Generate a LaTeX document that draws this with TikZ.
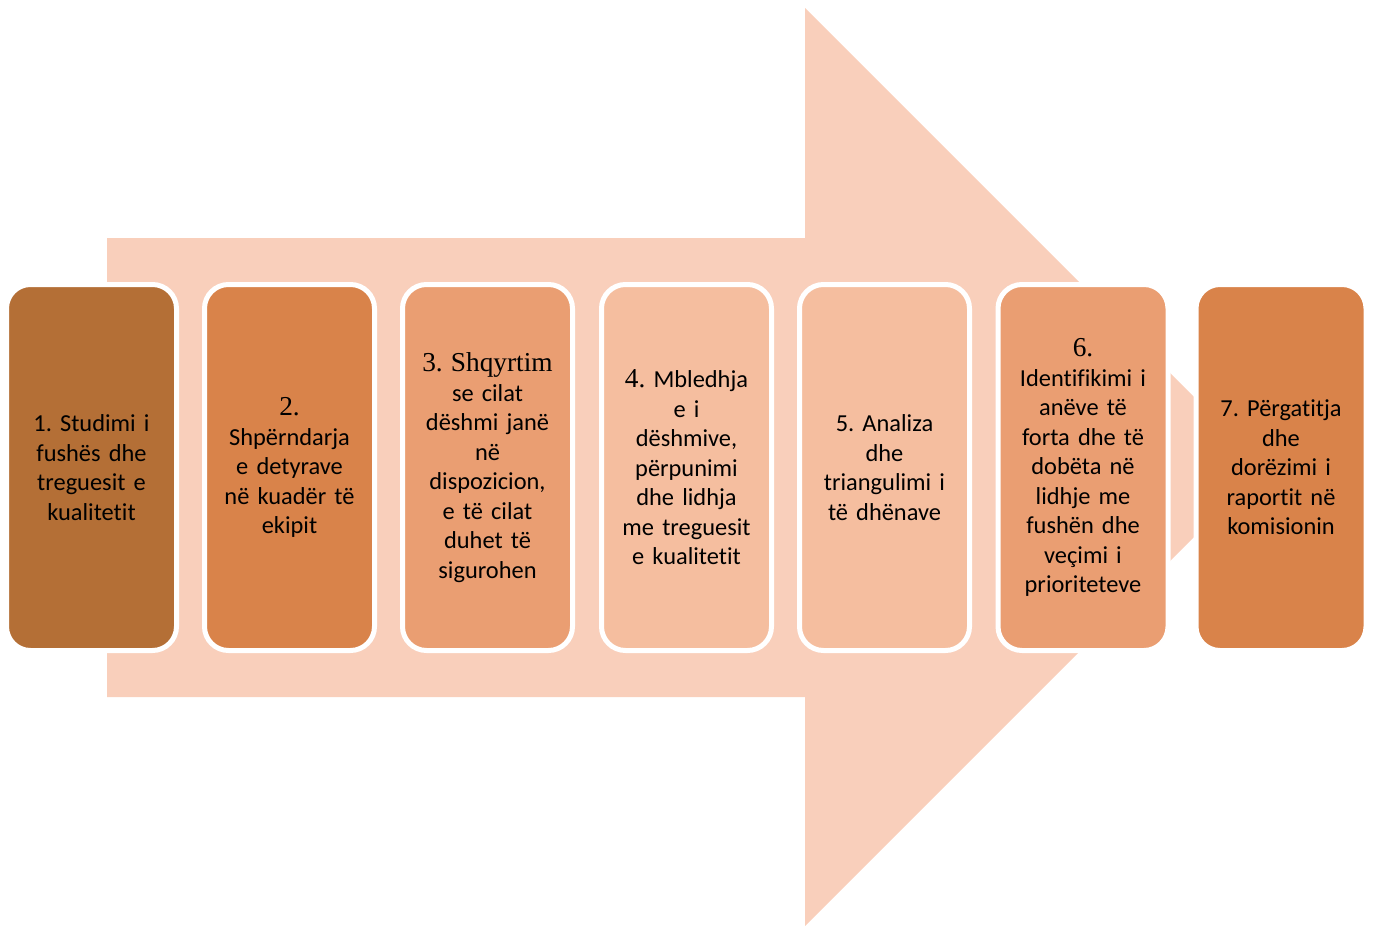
\documentclass[tikz,border=0pt]{standalone}
\usepackage{fontspec}
\setmainfont{Carlito}[Ligatures=NoCommon]
\newfontfamily\numfont{Liberation Serif}[Scale=1.12]
\usepackage{xcolor}
\usetikzlibrary{positioning}
\frenchspacing

\definecolor{arrowfill}{RGB}{249,207,187}
\definecolor{brownA}{RGB}{180,111,54}
\definecolor{orangeB}{RGB}{217,131,74}
\definecolor{salmonC}{RGB}{234,158,114}
\definecolor{peachD}{RGB}{245,190,159}

\begin{document}
\begin{tikzpicture}[x=0.5pt,y=-0.5pt]
        \tikzset{stepbox/.style = {draw=white, line width=2.5pt, rounded corners=12pt,
            minimum width=85pt, minimum height=183pt, inner sep=0pt,
            text width=82pt, align=center, text=black,
            font=\fontsize{12.2}{14.75}\selectfont}}

        \useasboundingbox (0,0) rectangle (1376,926);

        % big arrow
        \fill[arrowfill] (107,238) -- (805,238) -- (805,8) -- (1264,467)
            -- (805,926) -- (805,697) -- (107,697) -- cycle;

        \node[stepbox, fill=brownA]  (s1) at (91.5,467.5)  {1. Studimi i\\ fushës dhe\\ treguesit e\\ kualitetit};
        \node[stepbox, fill=orangeB] (s2) at (289.5,467.5) {{\numfont 2.}\\ Shpërndarja\\ e detyrave\\ në kuadër të\\ ekipit};
        \node[stepbox, fill=salmonC] (s3) at (487.5,467.5) {{\numfont 3. Shqyrtim}\\ se cilat\\ dëshmi janë\\ në\\ dispozicion,\\ e të cilat\\ duhet të\\ sigurohen};
        \node[stepbox, fill=peachD]  (s4) at (686.5,467.5) {{\numfont 4.} Mbledhja\\ e i\\ dëshmive,\\ përpunimi\\ dhe lidhja\\ me treguesit\\ e kualitetit};
        \node[stepbox, fill=peachD]  (s5) at (884.5,467.5) {5. Analiza\\ dhe\\ triangulimi i\\ të dhënave};
        \node[stepbox, fill=salmonC] (s6) at (1083,467.5)  {{\numfont 6.}\\ Identifikimi i\\ anëve të\\ forta dhe të\\ dobëta në\\ lidhje me\\ fushën dhe\\ veçimi i\\ prioriteteve};
        \node[stepbox, fill=orangeB] (s7) at (1281,467.5)  {7. Përgatitja\\ dhe\\ dorëzimi i\\ raportit në\\ komisionin};

\end{tikzpicture}
\end{document}
